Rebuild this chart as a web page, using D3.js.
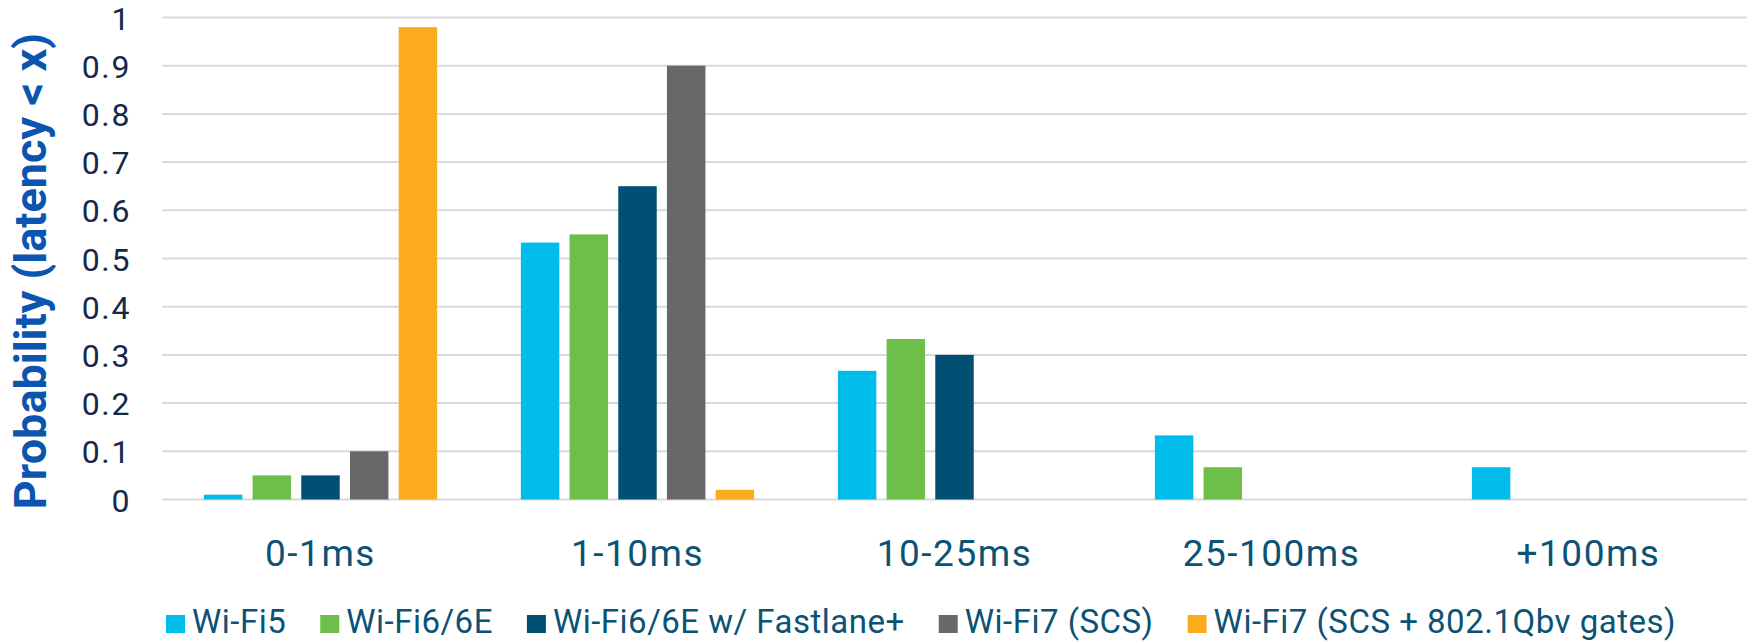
<!DOCTYPE html>
<html>
<head>
<meta charset="utf-8">
<script src="https://cdn.jsdelivr.net/npm/d3@7"></script>
<style>
  html, body { margin: 0; padding: 0; background: #ffffff; }
  svg { display: block; }
</style>
</head>
<body>
<svg id="chart" width="1750" height="642"></svg>
<script>
// ---- data ----
const categories = ["0-1ms", "1-10ms", "10-25ms", "25-100ms", "+100ms"];
const seriesNames = ["Wi-Fi5", "Wi-Fi6/6E", "Wi-Fi6/6E w/ Fastlane+", "Wi-Fi7 (SCS)", "Wi-Fi7 (SCS + 802.1Qbv gates)"];
const wifi5       = [0.01, 0.533, 0.267, 0.133, 0.067];
const wifi6       = [0.05, 0.55, 0.333, 0.067, 0];
const wifi6Fast   = [0.05, 0.65, 0.30, 0, 0];
const wifi7SCS    = [0.10, 0.90, 0, 0, 0];
const wifi7Qbv    = [0.98, 0.02, 0, 0, 0];
const yTicks = [0, 0.1, 0.2, 0.3, 0.4, 0.5, 0.6, 0.7, 0.8, 0.9, 1];
const yTickLabels = ["0", "0.1", "0.2", "0.3", "0.4", "0.5", "0.6", "0.7", "0.8", "0.9", "1"];
const yTitle = "Probability (latency < x)";

const seriesValues = [wifi5, wifi6, wifi6Fast, wifi7SCS, wifi7Qbv];
const colors = ["#00BCEB", "#6EBE4A", "#005073", "#686868", "#FBAB1B"];

// ---- layout ----
const svg = d3.select("#chart");
const plot = { left: 162, right: 1747, top: 17.5, bottom: 499.5 };

const x0 = d3.scaleBand().domain(categories).range([plot.left, plot.right]).padding(0);
const x1 = d3.scaleBand().domain(seriesNames).range([0, x0.bandwidth()])
  .paddingInner(0.21).paddingOuter(0.86);
const y = d3.scaleLinear().domain([0, 1]).range([plot.bottom, plot.top]);
const color = d3.scaleOrdinal().domain(seriesNames).range(colors);

// gridlines
svg.append("g").selectAll("line").data(yTicks).join("line")
  .attr("x1", plot.left).attr("x2", plot.right)
  .attr("y1", d => y(d)).attr("y2", d => y(d))
  .attr("stroke", "#D9D9D9").attr("stroke-width", 2);

// y axis labels
const yAxis = d3.axisLeft(y).tickValues(yTicks)
  .tickFormat((d, i) => yTickLabels[i]).tickSize(0).tickPadding(0);
const gy = svg.append("g").attr("transform", "translate(131,0)").call(yAxis);
gy.select(".domain").remove();
gy.selectAll("text")
  .attr("font-family", "Roboto, 'Open Sans', sans-serif")
  .attr("font-size", 32).attr("letter-spacing", "1.6px")
  .attr("fill", "#13294B").attr("dy", "0.36em");

// y title
svg.append("text")
  .attr("transform", `translate(46,271) rotate(-90)`)
  .attr("text-anchor", "middle")
  .attr("font-family", "Roboto, sans-serif").attr("font-weight", "bold")
  .attr("font-size", 45).attr("fill", "#0B55B0")
  .text(yTitle);

// bars
const groups = svg.append("g").selectAll("g").data(categories).join("g")
  .attr("transform", d => `translate(${x0(d)},0)`);
groups.selectAll("rect")
  .data((c, ci) => seriesNames.map((s, si) => ({ s, v: seriesValues[si][ci] })))
  .join("rect")
  .attr("x", d => x1(d.s))
  .attr("width", x1.bandwidth())
  .attr("y", d => y(d.v))
  .attr("height", d => y(0) - y(d.v))
  .attr("fill", d => color(d.s));

// x axis labels
const xAxis = d3.axisBottom(x0).tickSize(0).tickPadding(0);
const gx = svg.append("g").attr("transform", "translate(0,566)").call(xAxis);
gx.select(".domain").remove();
gx.selectAll("text")
  .attr("font-family", "Roboto, sans-serif")
  .attr("font-size", 37).attr("letter-spacing", "1.5px")
  .attr("fill", "#0B5274").attr("dy", 0).attr("y", 0);

// legend
const legend = svg.append("g");
const items = legend.selectAll("g").data(seriesNames).join("g");
items.append("rect")
  .attr("width", 19).attr("height", 18).attr("y", -18)
  .attr("fill", d => color(d));
items.append("text")
  .attr("x", 26).attr("y", 0)
  .attr("font-family", "Roboto, sans-serif")
  .attr("font-size", 33).attr("letter-spacing", "0.5px")
  .attr("fill", "#0B5274")
  .text(d => d);
let cx = 0;
const gap = 34;
items.each(function () {
  const g = d3.select(this);
  const w = 26 + g.select("text").node().getComputedTextLength();
  g.attr("transform", `translate(${cx},0)`);
  cx += w + gap;
});
const total = cx - gap;
legend.attr("transform", `translate(${921 - total / 2},633)`);
</script>
</body>
</html>
